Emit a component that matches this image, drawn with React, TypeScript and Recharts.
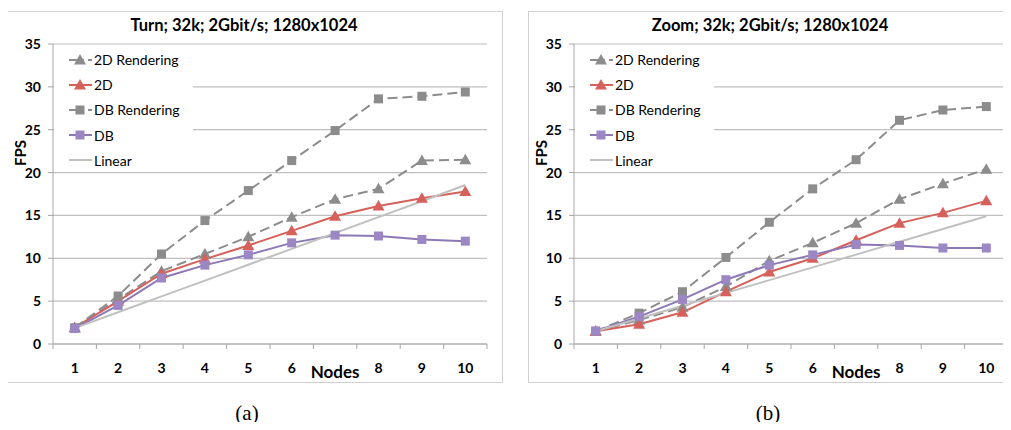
import React from 'react';
import { LineChart, Line, XAxis, YAxis, CartesianGrid, Legend } from 'recharts';

// x categories (node count); the "7" label is covered by the axis title in the original
const nodes = ['1', '2', '3', '4', '5', '6', '7', '8', '9', '10'];
const fpsTicks = [0, 5, 10, 15, 20, 25, 30, 35];
const seriesNames = ['2D Rendering', '2D', 'DB Rendering', 'DB', 'Linear'];

// (a) Turn
const turn2DRendering = [1.9, 5.2, 8.5, 10.5, 12.5, 14.8, 16.9, 18.1, 21.4, 21.5];
const turn2D = [1.9, 5.0, 8.2, 9.9, 11.5, 13.2, 14.9, 16.1, 17.0, 17.8];
const turnDBRendering = [1.9, 5.6, 10.5, 14.4, 17.9, 21.4, 24.9, 28.6, 28.9, 29.4];
const turnDB = [1.8, 4.5, 7.7, 9.2, 10.4, 11.8, 12.7, 12.6, 12.2, 12.0];
const turnLinear = [1.85, 3.7, 5.55, 7.4, 9.25, 11.1, 12.95, 14.8, 16.65, 18.55];

// (b) Zoom
const zoom2DRendering = [1.5, 2.8, 4.3, 6.7, 9.7, 11.8, 14.1, 16.9, 18.7, 20.4];
const zoom2D = [1.5, 2.3, 3.7, 6.1, 8.4, 10.0, 12.1, 14.1, 15.3, 16.7];
const zoomDBRendering = [1.5, 3.6, 6.1, 10.1, 14.2, 18.1, 21.5, 26.1, 27.3, 27.7];
const zoomDB = [1.5, 3.2, 5.2, 7.5, 9.2, 10.4, 11.6, 11.5, 11.2, 11.2];
const zoomLinear = [1.49, 2.98, 4.47, 5.96, 7.45, 8.94, 10.43, 11.92, 13.41, 14.9];

const FONT = 'Lato, "Open Sans", sans-serif';
const GRID = '#bfbfbf';
const GRAY = '#8c8c8c';
const RED = '#d6605a';
const PURPLE = '#8d78b6';
const PURPLE_MARK = '#9b87c4';
const LINEAR = '#c0c0c0';
const DASH = '10 5';

const W = 496;
const H = 372;
const BAND = 43.4; // width of one category slot

type SeriesStyle = { color: string; mark?: 'triangle' | 'square'; markColor?: string; dashed?: boolean; width: number };

const styles: Record<string, SeriesStyle> = {
  '2D Rendering': { color: GRAY, mark: 'triangle', dashed: true, width: 2 },
  '2D': { color: RED, mark: 'triangle', width: 2 },
  'DB Rendering': { color: GRAY, mark: 'square', dashed: true, width: 2 },
  DB: { color: PURPLE, mark: 'square', markColor: PURPLE_MARK, width: 2 },
  Linear: { color: LINEAR, width: 2 },
};

function Marker({ cx, cy, mark, color }: { cx: number; cy: number; mark?: string; color: string }) {
  if (mark === 'triangle') {
    return <polygon points={`${cx},${cy - 6} ${cx + 6},${cy + 4.5} ${cx - 6},${cy + 4.5}`} fill={color} />;
  }
  if (mark === 'square') {
    return <rect x={cx - 4.5} y={cy - 4.5} width={9} height={9} fill={color} />;
  }
  return null;
}

function NodeTick(props: any) {
  const { x, y, payload, index } = props;
  const half = BAND / 2;
  const last = index === nodes.length - 1;
  return (
    <g>
      <line x1={x - half} x2={x - half} y1={y} y2={y + 5} stroke="#a6a6a6" />
      {last && <line x1={x + half} x2={x + half} y1={y} y2={y + 5} stroke="#a6a6a6" />}
      {payload.value === '7' ? (
        <text x={x} y={y + 34} textAnchor="middle" fontSize={17} fontWeight={700} fill="#000" fontFamily={FONT}>
          Nodes
        </text>
      ) : (
        <text x={x} y={y + 29} textAnchor="middle" fontSize={14} fontWeight={700} fill="#000" fontFamily={FONT}>
          {payload.value}
        </text>
      )}
    </g>
  );
}

function renderLegend() {
  return (
    <div style={{ background: '#fff', width: 139, height: 123, fontFamily: FONT, fontSize: 14, color: '#000' }}>
      {seriesNames.map((name) => {
        const s = styles[name];
        return (
          <div key={name} style={{ height: 25.2, display: 'flex', alignItems: 'center' }}>
            <svg width={40} height={14} style={{ flex: 'none' }}>
              <line x1={15} x2={38} y1={7} y2={7} stroke={s.color} strokeWidth={2} strokeDasharray={s.dashed ? '11 3 1 4' : undefined} />
              <Marker cx={26} cy={7} mark={s.mark} color={s.markColor || s.color} />
            </svg>
            <span>{name}</span>
          </div>
        );
      })}
    </div>
  );
}

function Panel({ left, series }: { left: number; series: Record<string, number[]> }) {
  const data = nodes.map((n, i) => {
    const row: Record<string, string | number> = { node: n };
    seriesNames.forEach((k) => {
      row[k] = series[k][i];
    });
    return row;
  });

  return (
    <div style={{ position: 'absolute', left, top: 11 }}>
      <LineChart width={W} height={H} data={data} margin={{ top: 33, right: 16, left: 0, bottom: 0 }}>
        <CartesianGrid vertical={false} stroke={GRID} strokeWidth={1.2} />
        <XAxis
          dataKey="node"
          height={39}
          padding={{ left: BAND / 2, right: BAND / 2 }}
          axisLine={{ stroke: '#a6a6a6' }}
          tickLine={false}
          tickSize={0}
          tickMargin={0}
          interval={0}
          tick={<NodeTick />}
        />
        <YAxis
          width={46}
          domain={[0, 35]}
          ticks={fpsTicks}
          interval={0}
          axisLine={{ stroke: '#a6a6a6' }}
          tickLine={{ stroke: '#a6a6a6' }}
          tickSize={5}
          tickMargin={7}
          tick={{ fontSize: 14, fontWeight: 700, fill: '#000', fontFamily: FONT }}
        />
        <Legend
          layout="vertical"
          align="center"
          verticalAlign="middle"
          content={renderLegend}
          wrapperStyle={{ left: 47, top: 36, width: 139, height: 123 }}
        />
        {seriesNames.map((k) => {
          const s = styles[k];
          return (
            <Line
              key={k}
              dataKey={k}
              name={k}
              type="linear"
              stroke={s.color}
              strokeWidth={s.width}
              strokeDasharray={s.dashed ? DASH : undefined}
              dot={(p: any) => <Marker key={p.index} cx={p.cx} cy={p.cy} mark={s.mark} color={s.markColor || s.color} />}
              activeDot={false}
              isAnimationActive={false}
            />
          );
        })}
      </LineChart>
    </div>
  );
}

function Title({ text, center }: { text: string; center: number }) {
  return (
    <div
      style={{
        position: 'absolute',
        left: center - 200,
        top: 14,
        width: 400,
        textAlign: 'center',
        fontFamily: FONT,
        fontWeight: 700,
        fontSize: 16.5,
        lineHeight: '22px',
      }}
    >
      {text}
    </div>
  );
}

function FpsLabel({ center }: { center: number }) {
  return (
    <div
      style={{
        position: 'absolute',
        left: center - 30,
        top: 153 - 10,
        width: 60,
        height: 20,
        lineHeight: '20px',
        textAlign: 'center',
        fontFamily: FONT,
        fontWeight: 700,
        fontSize: 15,
        transform: 'rotate(-90deg)',
      }}
    >
      FPS
    </div>
  );
}

function Caption({ text, center }: { text: string; center: number }) {
  return (
    <div
      style={{
        position: 'absolute',
        left: center - 30,
        top: 400,
        width: 60,
        textAlign: 'center',
        fontFamily: '"Liberation Serif", serif',
        fontSize: 21,
        lineHeight: '26px',
      }}
    >
      {text}
    </div>
  );
}

export default function App() {
  const boxStyle = {
    position: 'absolute' as const,
    top: 11,
    width: W,
    height: H,
    border: '1px solid #d0d0d0',
    boxSizing: 'border-box' as const,
  };

  return (
    <div style={{ position: 'relative', width: 1011, height: 430, margin: -8, overflow: 'hidden', background: '#fff' }}>
      <div style={{ ...boxStyle, left: 7 }} />
      <div style={{ ...boxStyle, left: 528 }} />
      <Panel
        left={7}
        series={{
          '2D Rendering': turn2DRendering,
          '2D': turn2D,
          'DB Rendering': turnDBRendering,
          DB: turnDB,
          Linear: turnLinear,
        }}
      />
      <Panel
        left={528}
        series={{
          '2D Rendering': zoom2DRendering,
          '2D': zoom2D,
          'DB Rendering': zoomDBRendering,
          DB: zoomDB,
          Linear: zoomLinear,
        }}
      />
      <Title text="Turn; 32k; 2Gbit/s; 1280x1024" center={244} />
      <Title text="Zoom; 32k; 2Gbit/s; 1280x1024" center={770} />
      <FpsLabel center={20} />
      <FpsLabel center={541} />
      <Caption text="(a)" center={247} />
      <Caption text="(b)" center={768} />
    </div>
  );
}
